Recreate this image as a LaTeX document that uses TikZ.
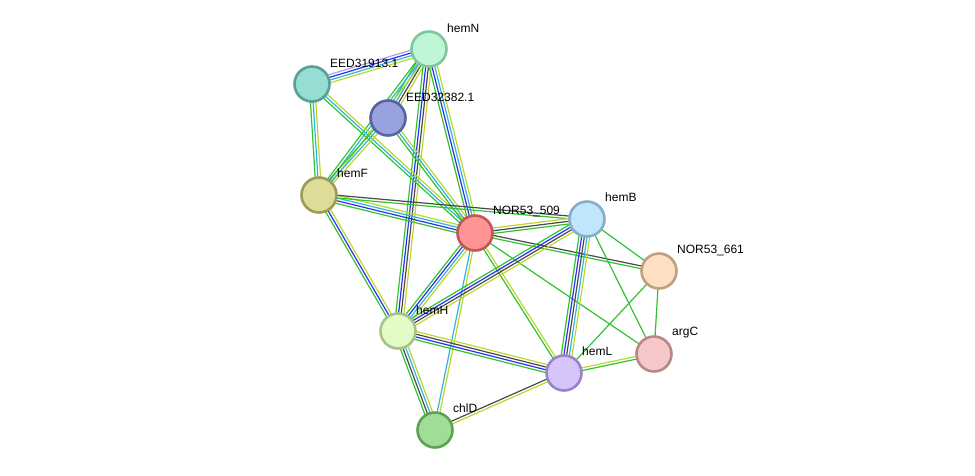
\documentclass[tikz,border=0pt]{standalone}
\usepackage{fontspec}
\setmainfont{Liberation Sans}
\usetikzlibrary{calc}
\pgfdeclarelayer{background}
\pgfsetlayers{background,main}
\definecolor{nb}{HTML}{2EC42E}
\definecolor{co}{HTML}{2E2EF2}
\definecolor{cx}{HTML}{4A4A4A}
\definecolor{db}{HTML}{2EB6DB}
\definecolor{tm}{HTML}{BCD62E}
\definecolor{hm}{HTML}{A8A0F5}
\definecolor{fN}{HTML}{BFF7D6}\definecolor{dN}{HTML}{80C79E}
\definecolor{fA}{HTML}{96DED4}\definecolor{dA}{HTML}{5A9E98}
\definecolor{fB}{HTML}{98A2DF}\definecolor{dB}{HTML}{5864A0}
\definecolor{fF}{HTML}{DEDC96}\definecolor{dF}{HTML}{9E9A58}
\definecolor{fR}{HTML}{FF9494}\definecolor{dR}{HTML}{C05858}
\definecolor{fHB}{HTML}{BFE6FA}\definecolor{dHB}{HTML}{84AECA}
\definecolor{fO}{HTML}{FDDFC2}\definecolor{dO}{HTML}{C0A07F}
\definecolor{fC}{HTML}{F6C7C8}\definecolor{dC}{HTML}{B88888}
\definecolor{fL}{HTML}{D5C5FA}\definecolor{dL}{HTML}{9A84C8}
\definecolor{fH}{HTML}{E2FCC6}\definecolor{dH}{HTML}{A6C48A}
\definecolor{fD}{HTML}{A0DE98}\definecolor{dD}{HTML}{5FA156}
\newcommand\strEdge[3]{%
  \foreach \cc [count=\ii] in {#3} {\xdef\strN{\ii}}%
  \foreach \cc [count=\ii] in {#3} {%
    \pgfmathsetmacro\strOff{(\ii-(\strN+1)/2)*2.7}%
    \draw[\cc, line width=1.2pt] ($(#1)!\strOff pt!90:(#2)$) -- ($(#2)!\strOff pt!-90:(#1)$);
  }%
}
\tikzset{
  prot/.style={circle, minimum size=35pt, inner sep=0pt, line width=2.6pt},
  lbl/.style={anchor=west, font=\fontsize{12}{14}\selectfont, inner sep=0pt}
}
\begin{document}
\begin{tikzpicture}[x=1pt,y=-1pt]
\useasboundingbox (0,0) rectangle (975,475);
\node[prot, fill=fN, draw=dN] (hemN) at (429,49) {};
\node[prot, fill=fA, draw=dA] (e13) at (312,84) {};
\node[prot, fill=fB, draw=dB] (e82) at (388,118) {};
\node[prot, fill=fF, draw=dF] (hemF) at (319,195) {};
\node[prot, fill=fR, draw=dR] (n509) at (475,233) {};
\node[prot, fill=fHB, draw=dHB] (hemB) at (587,219) {};
\node[prot, fill=fO, draw=dO] (n661) at (659,271) {};
\node[prot, fill=fC, draw=dC] (argC) at (654,354) {};
\node[prot, fill=fL, draw=dL] (hemL) at (564,373) {};
\node[prot, fill=fH, draw=dH] (hemH) at (398,331) {};
\node[prot, fill=fD, draw=dD] (chlD) at (435,430) {};

\begin{pgfonlayer}{background}
\strEdge{hemN}{e13}{hm,co,db,tm}
\strEdge{hemN}{e82}{nb,db,cx,tm}
\strEdge{hemN}{hemF}{nb,db,tm}
\strEdge{hemN}{hemH}{nb,co,cx,tm}
\strEdge{hemN}{n509}{nb,co,db,tm}
\strEdge{e13}{hemF}{nb,db,tm}
\strEdge{e13}{n509}{nb,db,tm}
\strEdge{e82}{hemF}{nb,db,tm}
\strEdge{e82}{n509}{nb,db,tm}
\strEdge{hemF}{n509}{nb,co,db,tm}
\strEdge{hemF}{hemB}{nb,cx}
\strEdge{hemF}{hemH}{nb,co,tm}
\strEdge{n509}{hemB}{nb,cx,tm}
\strEdge{n509}{n661}{nb,cx}
\strEdge{n509}{hemH}{nb,co,db,tm}
\strEdge{n509}{hemL}{nb,tm}
\strEdge{n509}{argC}{nb}
\strEdge{n509}{chlD}{db,tm}
\strEdge{hemB}{hemH}{nb,co,cx,tm}
\strEdge{hemB}{hemL}{nb,co,cx,db,tm}
\strEdge{hemB}{n661}{nb}
\strEdge{hemB}{argC}{nb}
\strEdge{n661}{hemL}{nb}
\strEdge{n661}{argC}{nb}
\strEdge{hemL}{argC}{nb,tm}
\strEdge{hemH}{hemL}{nb,co,cx,tm}
\strEdge{hemH}{chlD}{nb,cx,db,tm}
\strEdge{hemL}{chlD}{cx,tm}
\end{pgfonlayer}

\node[lbl] (lhemN) at (447,28) {hemN};
\node[lbl] (le13) at (330,63) {EED31913.1};
\node[lbl] (le82) at (406,97) {EED32382.1};
\node[lbl] (lhemF) at (337,173) {hemF};
\node[lbl] (l509) at (493,211) {NOR53\_509};
\node[lbl] (lhemB) at (605,197) {hemB};
\node[lbl] (l661) at (677,250) {NOR53\_661};
\node[lbl] (largC) at (672,333) {argC};
\node[lbl] (lhemL) at (582,351) {hemL};
\node[lbl] (lhemH) at (416,310) {hemH};
\node[lbl] (lchlD) at (453,408) {chlD};
\end{tikzpicture}
\end{document}
